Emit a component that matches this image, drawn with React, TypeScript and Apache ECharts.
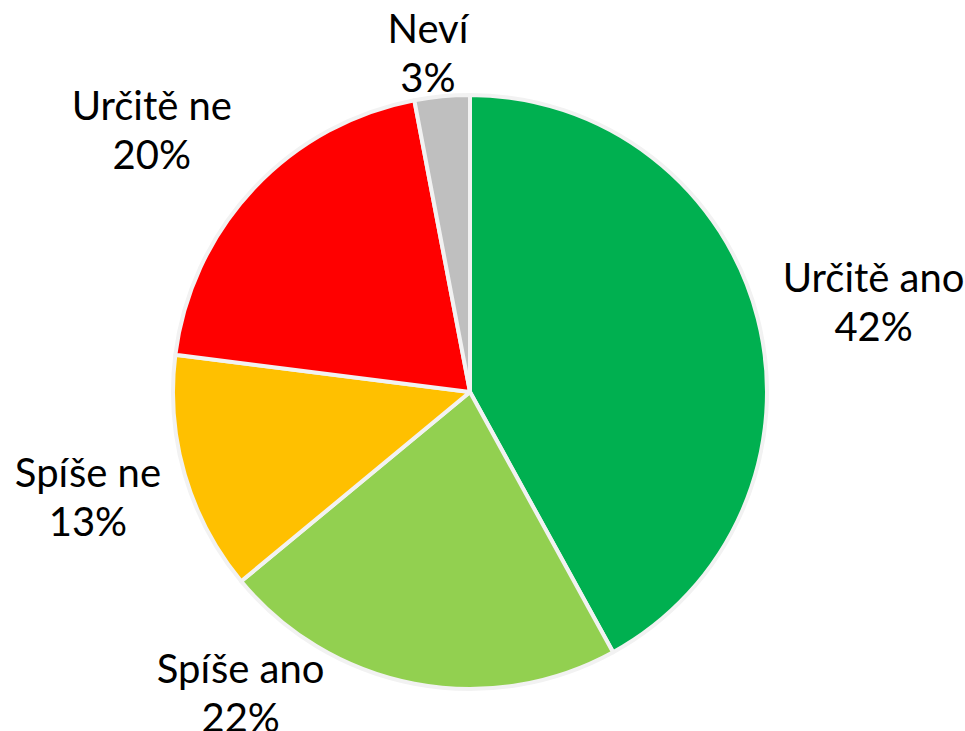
import React, { useEffect, useRef } from "react";
import * as echarts from "echarts";

const categories = ["Určitě ano", "Spíše ano", "Spíše ne", "Určitě ne", "Neví"];
const percentages = [42, 22, 13, 20, 3];

// styling (not data)
const sliceColors = ["#00B050", "#92D050", "#FFC000", "#FF0000", "#BFBFBF"];
const labelLineLengths: [number, number][] = [
  [65, 48],
  [9, 167],
  [79, 16],
  [86, 34],
  [44, 5],
];

export default function App() {
  const ref = useRef<HTMLDivElement>(null);
  useEffect(() => {
    const chart = echarts.init(ref.current!, null, { renderer: "svg" });
    chart.setOption({
      animation: false,
      backgroundColor: "#ffffff",
      series: [
        {
          type: "pie",
          center: [470, 392],
          radius: 297,
          startAngle: 90,
          clockwise: true,
          avoidLabelOverlap: false,
          itemStyle: { borderColor: "#F2F2F2", borderWidth: 4 },
          label: {
            show: true,
            position: "outside",
            formatter: (p: any) => `${p.name}\n${p.value}%`,
            fontFamily: 'Lato, Carlito, "Liberation Sans", sans-serif',
            fontSize: 40,
            lineHeight: 49,
            color: "#000000",
          },
          labelLine: { show: false },
          labelLayout: { align: "center", verticalAlign: "middle" },
          emphasis: { disabled: true },
          data: categories.map((name, i) => ({
            name,
            value: percentages[i],
            itemStyle: { color: sliceColors[i] },
            labelLine: {
              show: false,
              length: labelLineLengths[i][0],
              length2: labelLineLengths[i][1],
            },
          })),
        },
      ],
    });
    return () => chart.dispose();
  }, []);
  return (
    <div
      ref={ref}
      style={{ position: "absolute", left: 0, top: 0, width: 965, height: 731 }}
    />
  );
}
